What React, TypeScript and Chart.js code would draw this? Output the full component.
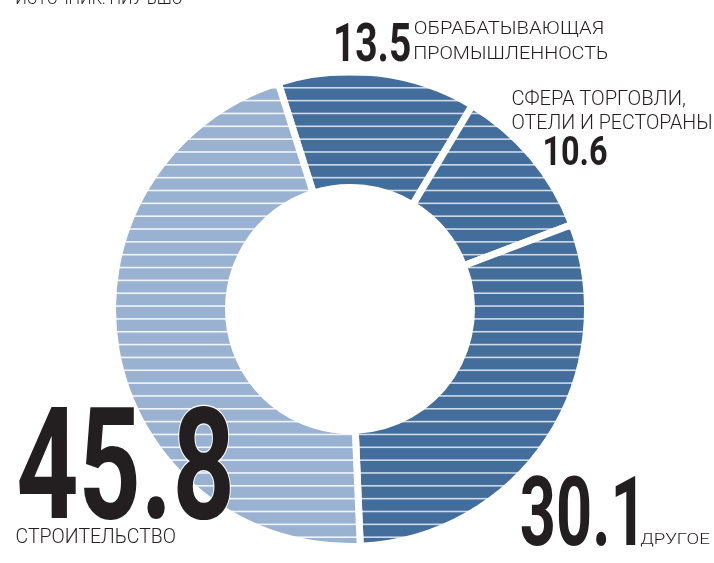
import React, { useEffect, useMemo, useRef } from "react";
import { Chart, registerables } from "chart.js";

Chart.register(...registerables);

// ---------------- data ----------------
const categories = [
  "Обрабатывающая промышленность",
  "Сфера торговли, отели и рестораны",
  "Другое",
  "Строительство",
];
const shares = [13.5, 10.6, 30.1, 45.8];
const shareLabels = ["13.5", "10.6", "30.1", "45.8"];
const categoryLines = [
  ["ОБРАБАТЫВАЮЩАЯ", "ПРОМЫШЛЕННОСТЬ"],
  ["СФЕРА ТОРГОВЛИ,", "ОТЕЛИ И РЕСТОРАНЫ"],
  ["ДРУГОЕ"],
  ["СТРОИТЕЛЬСТВО"],
];
const sourceNote = "ИСТОЧНИК: НИУ ВШЭ";

// ---------------- styles / layout ----------------
const W = 714;
const H = 563;
const DARK = "#436e9c";
const LIGHT = "#9ab2d1";
const segmentFill = [DARK, DARK, DARK, LIGHT];
const stripeInk = ["#cfdae7", "#cfdae7", "#cfdae7", "#f0f4f8"];
const TEXT = "#231f20";
const NUM_FONT = "Roboto, 'Noto Sans', sans-serif";
const LABEL_FONT = "Roboto, 'Noto Sans', sans-serif";
const LABEL_WEIGHT = 300;

// ink boxes of the big numbers: [left, right, top, bottom]
const numberBoxes = [
  [336, 410, 21.7, 61.7],
  [545, 606.5, 135, 165.5],
  [521.7, 635.7, 475, 546],
  [18.3, 230, 405, 520],
];
// label line boxes: [left, right, capTop, baseline]
const labelBoxes = [
  [
    [415, 602.7, 20.7, 34],
    [415, 607.3, 45.7, 59],
  ],
  [
    [512.7, 685.5, 91.2, 105],
    [512.7, 711, 115, 128.8],
  ],
  [[640.7, 709.3, 533.3, 544]],
  [[16.7, 175, 528.3, 542.7]],
];
const sourceBox = [16.7, 181.7, -9.3, 4];

let mctx: CanvasRenderingContext2D | null = null;
function measure(text: string, weight: number, family: string) {
  if (!mctx) mctx = document.createElement("canvas").getContext("2d");
  mctx!.font = `${weight} 100px ${family}`;
  return mctx!.measureText(text);
}

function fitInk(text: string, weight: number, family: string, box: number[]) {
  const [l, r, t, b] = box;
  const m = measure(text, weight, family);
  const inkW = m.actualBoundingBoxLeft + m.actualBoundingBoxRight;
  const inkH = m.actualBoundingBoxAscent + m.actualBoundingBoxDescent;
  const sx = (r - l) / inkW;
  const sy = (b - t) / inkH;
  return { x: l + sx * m.actualBoundingBoxLeft, y: t + sy * m.actualBoundingBoxAscent, sx, sy };
}

function fitCaps(text: string, weight: number, family: string, box: number[]) {
  const [l, r, ct, bl] = box;
  const m = measure(text, weight, family);
  const cap = measure("Н", weight, family).actualBoundingBoxAscent;
  const inkW = m.actualBoundingBoxLeft + m.actualBoundingBoxRight;
  const sx = (r - l) / inkW;
  const sy = (bl - ct) / cap;
  return { x: l + sx * m.actualBoundingBoxLeft, y: bl, sx, sy };
}

function stripePattern(ctx: CanvasRenderingContext2D, fill: string, ink: string) {
  const period = 12.84;
  const count = 25;
  const h = Math.round(period * count);
  const c = document.createElement("canvas");
  c.width = 8;
  c.height = h;
  const g = c.getContext("2d")!;
  g.fillStyle = fill;
  g.fillRect(0, 0, 8, h);
  g.fillStyle = ink;
  for (let k = 0; k < count; k++) {
    const yc = 10.74 + k * period;
    g.fillRect(0, yc - 0.8, 8, 1.6);
  }
  return ctx.createPattern(c, "repeat")!;
}

function Txt({ t, fit, weight, family, outline }: any) {
  return (
    <text
      transform={`translate(${fit.x},${fit.y}) scale(${fit.sx},${fit.sy})`}
      x={0}
      y={0}
      fontFamily={family}
      fontWeight={weight}
      fontSize={100}
      fill={TEXT}
      stroke={outline ? "#ffffff" : "none"}
      strokeWidth={outline ? 2.2 : 0}
      paintOrder="stroke"
      vectorEffect="non-scaling-stroke"
      style={{ vectorEffect: "non-scaling-stroke" } as any}
    >
      {t}
    </text>
  );
}

export default function App() {
  const canvasRef = useRef<HTMLCanvasElement | null>(null);

  useEffect(() => {
    const canvas = canvasRef.current!;
    const ctx = canvas.getContext("2d")!;
    const patterns = segmentFill.map((f, i) => stripePattern(ctx, f, stripeInk[i]));
    const chart = new Chart(canvas, {
      type: "doughnut",
      data: {
        labels: categories,
        datasets: [
          {
            data: shares,
            backgroundColor: patterns as any,
            borderColor: "#ffffff",
            borderWidth: 7,
            borderJoinStyle: "miter",
            hoverOffset: 0,
          } as any,
        ],
      },
      options: {
        responsive: false,
        animation: false,
        rotation: -17.6,
        cutout: "51.16%",
        events: [],
        layout: { padding: { left: 109, top: 68, right: 123, bottom: 13 } },
        plugins: { legend: { display: false }, tooltip: { enabled: false } },
      } as any,
    });
    return () => chart.destroy();
  }, []);

  const texts = useMemo(() => {
    const nums = shareLabels.map((s, i) => ({ s, fit: fitInk(s, 700, NUM_FONT, numberBoxes[i]) }));
    const labels: any[] = [];
    categoryLines.forEach((lines, i) =>
      lines.forEach((ln, j) =>
        labels.push({ s: ln, fit: fitCaps(ln, LABEL_WEIGHT, LABEL_FONT, labelBoxes[i][j]) })
      )
    );
    const src = { s: sourceNote, fit: fitCaps(sourceNote, LABEL_WEIGHT, LABEL_FONT, sourceBox) };
    return { nums, labels, src };
  }, []);

  return (
    <div style={{ position: "fixed", left: 0, top: 0, width: W, height: H, background: "#ffffff", overflow: "hidden" }}>
      <canvas ref={canvasRef} width={W} height={H} style={{ position: "absolute", left: 0, top: 0, width: W, height: H }} />
      <svg width={W} height={H} style={{ position: "absolute", left: 0, top: 0, overflow: "hidden" }}>
        <Txt t={texts.src.s} fit={texts.src.fit} weight={LABEL_WEIGHT} family={LABEL_FONT} />
        {texts.labels.map((l: any, i: number) => (
          <Txt key={"l" + i} t={l.s} fit={l.fit} weight={LABEL_WEIGHT} family={LABEL_FONT} />
        ))}
        {texts.nums.map((n: any, i: number) => (
          <Txt key={"n" + i} t={n.s} fit={n.fit} weight={700} family={NUM_FONT} outline />
        ))}
      </svg>
    </div>
  );
}
